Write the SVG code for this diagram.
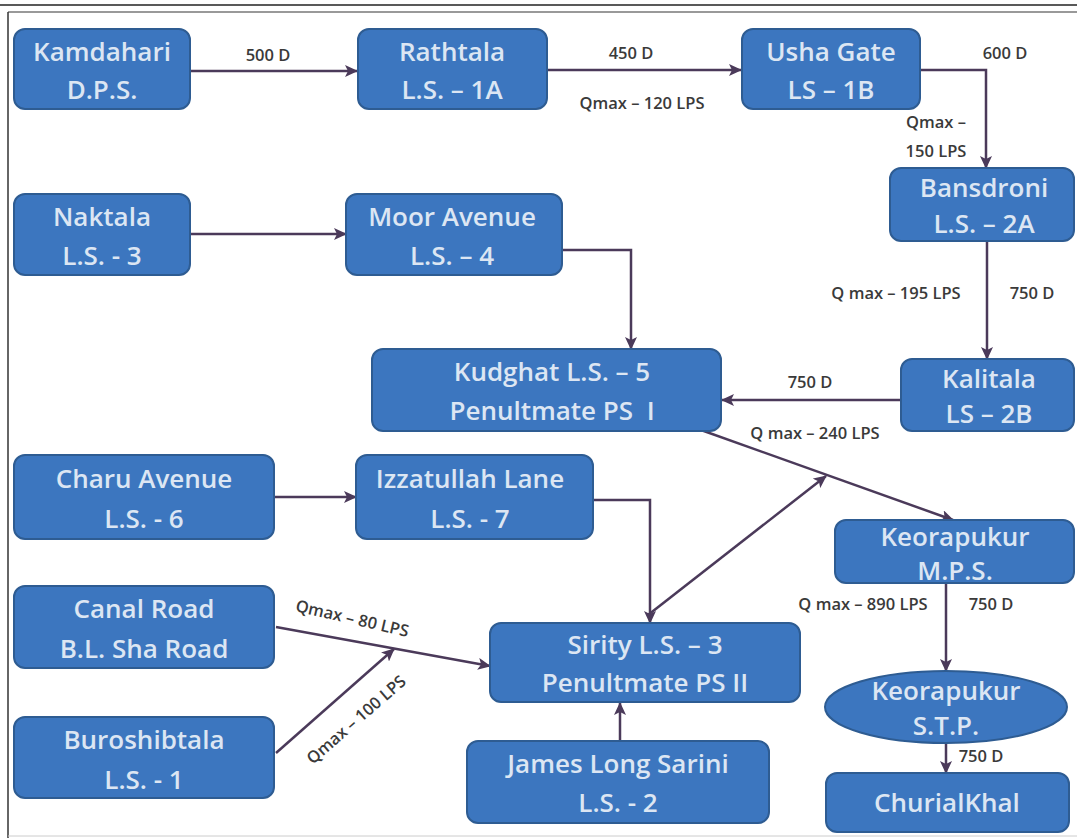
<svg xmlns="http://www.w3.org/2000/svg" width="1077" height="838" viewBox="0 0 1077 838">
<defs>
<marker id="ah" markerUnits="userSpaceOnUse" markerWidth="14" markerHeight="12" refX="12" refY="6" orient="auto">
<path d="M0,0 L13,6 L0,12 L3,6 Z" fill="#4b3a5a"/>
</marker>
<style>
.n{fill:#3c76bf;stroke:#2e5c92;stroke-width:2}
.t{font-family:"Open Sans","Liberation Sans",sans-serif;font-size:26px;font-weight:600;fill:#dce6f3;text-anchor:middle}
.l{font-family:"Open Sans","Liberation Sans",sans-serif;font-size:16.5px;font-weight:600;fill:#3a3a3a;text-anchor:middle}
.c{fill:none;stroke:#4b3a5a;stroke-width:2.5;marker-end:url(#ah)}
</style>
</defs>
<rect width="1077" height="838" fill="#ffffff"/>
<line x1="0" y1="5" x2="1077" y2="5" stroke="#222" stroke-width="1.5"/>
<line x1="8" y1="12" x2="1077" y2="12" stroke="#999" stroke-width="2"/>
<line x1="8" y1="12" x2="8" y2="838" stroke="#333" stroke-width="1.5"/>
<line x1="8" y1="836" x2="1077" y2="836" stroke="#ccc" stroke-width="1"/>

<g id="connectors">
<path class="c" d="M190,71 H357"/>
<path class="c" d="M547,70 H741"/>
<path class="c" d="M920,70 H986 V168"/>
<path class="c" d="M190,234 H346"/>
<path class="c" d="M562,250 H631 V349"/>
<path class="c" d="M987,241 V359"/>
<path class="c" d="M901,400 H722"/>
<path class="c" d="M701,430 L953,520"/>
<path class="c" d="M274,497 H356"/>
<path class="c" d="M593,500 H650 V623"/>
<path class="c" d="M648,615 L826,476"/>
<path class="c" d="M276,627 L490,666"/>
<path class="c" d="M276,753 L394,649"/>
<path class="c" d="M620,741 V703"/>
<path class="c" d="M946,583 V671"/>
<path class="c" d="M946,743 V773"/>
</g>

<g id="labels">
<text class="l" x="268" y="61">500 D</text>
<text class="l" x="631" y="59">450 D</text>
<text class="l" x="642" y="109">Qmax – 120 LPS</text>
<text class="l" x="1005" y="59">600 D</text>
<text class="l" x="936" y="128">Qmax –</text>
<text class="l" x="936" y="157">150 LPS</text>
<text class="l" x="896" y="299">Q max – 195 LPS</text>
<text class="l" x="1032" y="299">750 D</text>
<text class="l" x="810" y="388">750 D</text>
<text class="l" x="815" y="439">Q max – 240 LPS</text>
<text class="l" x="863" y="610">Q max – 890 LPS</text>
<text class="l" x="991" y="610">750 D</text>
<text class="l" x="981" y="762">750 D</text>
<text class="l" transform="translate(351,624) rotate(13)">Qmax – 80 LPS</text>
<text class="l" transform="translate(360,724) rotate(-41)">Qmax – 100 LPS</text>
</g>

<g id="kamdahari"><rect class="n" x="14" y="29" width="176" height="80" rx="11"/><text class="t" x="102" y="61">Kamdahari</text><text class="t" x="102" y="99">D.P.S.</text></g>
<g id="rathtala"><rect class="n" x="358" y="29" width="189" height="80" rx="11"/><text class="t" x="452" y="61">Rathtala</text><text class="t" x="452" y="99">L.S. – 1A</text></g>
<g id="usha-gate"><rect class="n" x="742" y="29" width="178" height="80" rx="11"/><text class="t" x="831" y="61">Usha Gate</text><text class="t" x="831" y="99">LS – 1B</text></g>
<g id="bansdroni"><rect class="n" x="890" y="168" width="184" height="73" rx="11"/><text class="t" x="984" y="197">Bansdroni</text><text class="t" x="984" y="233">L.S. – 2A</text></g>
<g id="naktala"><rect class="n" x="14" y="194" width="176" height="81" rx="11"/><text class="t" x="102" y="226">Naktala</text><text class="t" x="102" y="265">L.S. - 3</text></g>
<g id="moor-avenue"><rect class="n" x="346" y="194" width="216" height="81" rx="11"/><text class="t" x="452" y="226">Moor Avenue</text><text class="t" x="452" y="265">L.S. – 4</text></g>
<g id="kudghat"><rect class="n" x="372" y="349" width="349" height="82" rx="11"/><text class="t" x="552" y="381">Kudghat L.S. – 5</text><text class="t" x="552" y="420" xml:space="preserve">Penultmate PS  I</text></g>
<g id="kalitala"><rect class="n" x="901" y="359" width="173" height="72" rx="11"/><text class="t" x="989" y="388">Kalitala</text><text class="t" x="989" y="423">LS – 2B</text></g>
<g id="charu-avenue"><rect class="n" x="14" y="455" width="260" height="84" rx="11"/><text class="t" x="144" y="488">Charu Avenue</text><text class="t" x="144" y="528">L.S. - 6</text></g>
<g id="izzatullah-lane"><rect class="n" x="356" y="455" width="237" height="84" rx="11"/><text class="t" x="470" y="488">Izzatullah Lane</text><text class="t" x="470" y="528">L.S. - 7</text></g>
<g id="keorapukur-mps"><rect class="n" x="835" y="520" width="239" height="63" rx="11"/><text class="t" x="955" y="546">Keorapukur</text><text class="t" x="955" y="580">M.P.S.</text></g>
<g id="canal-road"><rect class="n" x="14" y="586" width="260" height="82" rx="11"/><text class="t" x="144" y="618">Canal Road</text><text class="t" x="144" y="658">B.L. Sha Road</text></g>
<g id="sirity"><rect class="n" x="490" y="623" width="310" height="79" rx="11"/><text class="t" x="645" y="654">Sirity L.S. – 3</text><text class="t" x="645" y="692">Penultmate PS II</text></g>
<g id="keorapukur-stp"><ellipse class="n" cx="946" cy="707" rx="121" ry="36"/><text class="t" x="946" y="700">Keorapukur</text><text class="t" x="946" y="735">S.T.P.</text></g>
<g id="buroshibtala"><rect class="n" x="14" y="717" width="260" height="81" rx="11"/><text class="t" x="144" y="749">Buroshibtala</text><text class="t" x="144" y="789">L.S. - 1</text></g>
<g id="james-long-sarini"><rect class="n" x="467" y="741" width="302" height="82" rx="11"/><text class="t" x="618" y="773">James Long Sarini</text><text class="t" x="618" y="812">L.S. - 2</text></g>
<g id="churialkhal"><rect class="n" x="826" y="773" width="243" height="59" rx="11"/><text class="t" x="947" y="812">ChurialKhal</text></g>
</svg>
